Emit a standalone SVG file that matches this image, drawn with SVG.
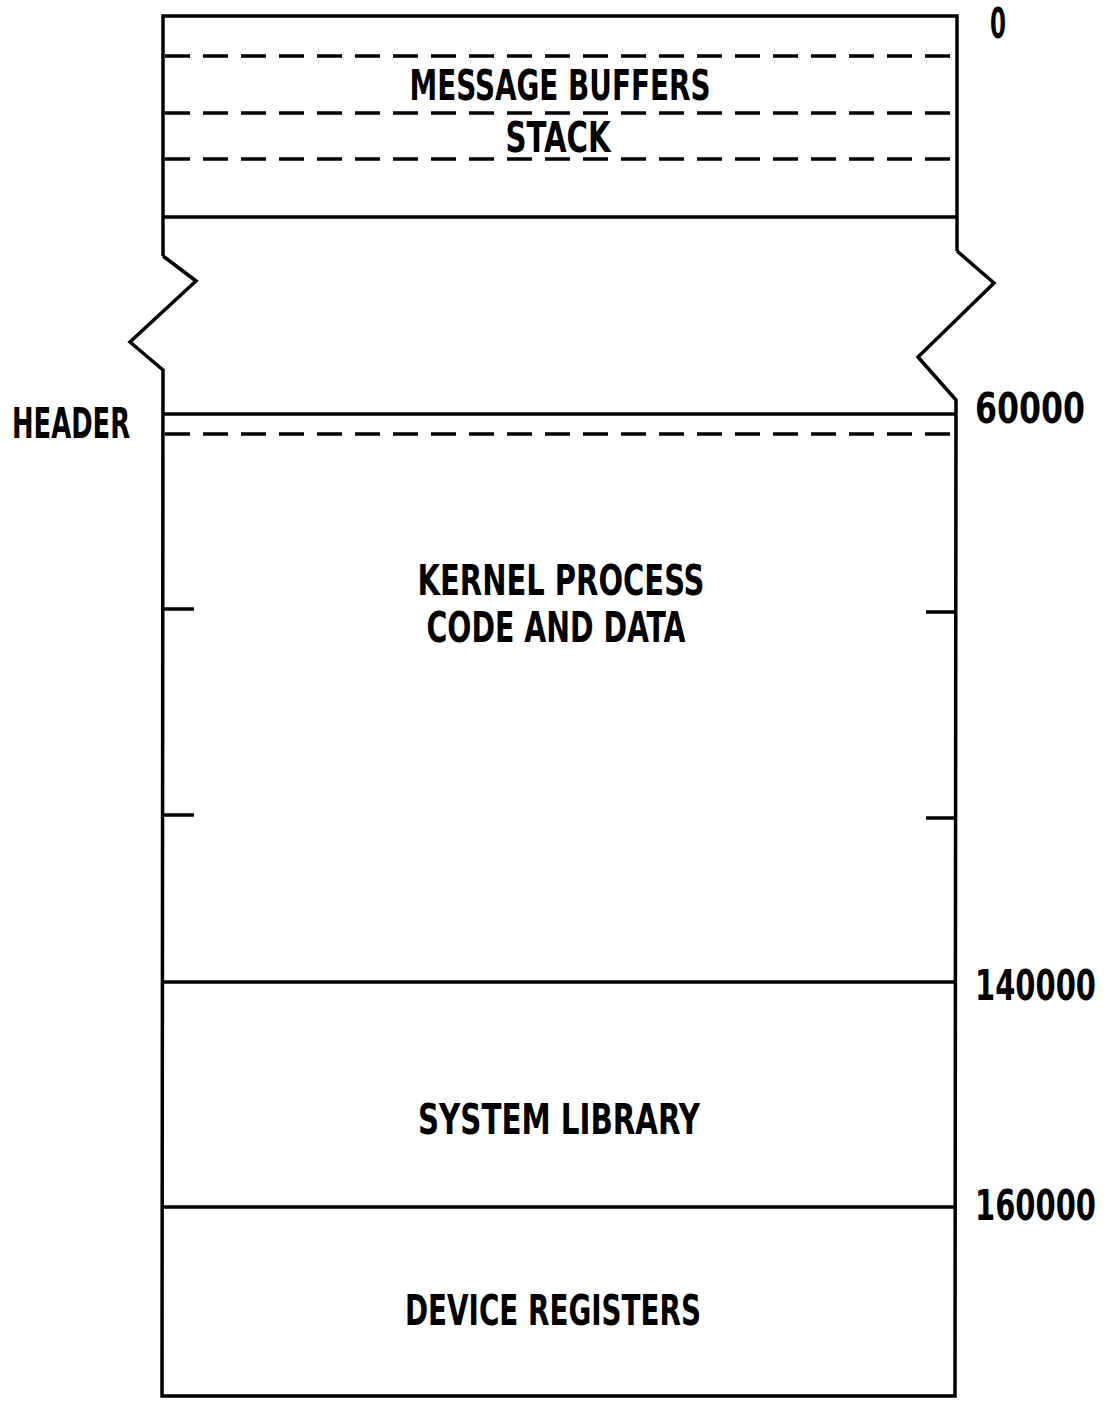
<svg xmlns="http://www.w3.org/2000/svg" width="1106" height="1403" viewBox="0 0 1106 1403">
<style>
.ln{stroke:#000;stroke-width:3.5;fill:none;stroke-linejoin:miter}
.ds{stroke:#000;stroke-width:3.5;fill:none;stroke-dasharray:25 13}
.t{font-family:"Liberation Sans Narrow","DejaVu Sans Condensed","Liberation Sans",sans-serif;font-weight:bold;font-size:42px;fill:#000}
.s{font-size:30px}
.c{text-anchor:middle}
</style>
<rect width="1106" height="1403" fill="#fff"/>
<g id="outline">
<path class="ln" d="M163,256 L163,16 L957,16 L957,251"/>
<path class="ln" d="M163,256 L196,281 L130,342 L163,370 L162,1396 L955,1396 L956,400 L918,357 L994,283 L957,251"/>
</g>
<g id="connectors">
<line class="ds" x1="165" y1="56" x2="957" y2="56"/>
<line class="ds" x1="165" y1="113" x2="957" y2="113"/>
<line class="ds" x1="165" y1="159" x2="957" y2="159"/>
<line class="ln" x1="163" y1="217" x2="957" y2="217"/>
<line class="ln" x1="163" y1="414" x2="956" y2="414"/>
<line class="ds" x1="165" y1="434" x2="956" y2="434"/>
<line class="ln" x1="163" y1="609" x2="194" y2="609"/>
<line class="ln" x1="926" y1="612" x2="956" y2="612"/>
<line class="ln" x1="163" y1="815" x2="194" y2="815"/>
<line class="ln" x1="926" y1="818" x2="956" y2="818"/>
<line class="ln" x1="162" y1="982" x2="956" y2="982"/>
<line class="ln" x1="162" y1="1207" x2="955" y2="1207"/>
</g>
<g id="message-buffers"><text class="t c" x="560" y="100" textLength="301" lengthAdjust="spacingAndGlyphs">MESSAGE BUFFERS</text></g>
<g id="stack"><text class="t c" x="558" y="152" textLength="105" lengthAdjust="spacingAndGlyphs">STACK</text></g>
<g id="header"><text class="t" x="12" y="438" textLength="118" lengthAdjust="spacingAndGlyphs">HEADER</text></g>
<g id="kernel"><text class="t c" x="561" y="595" textLength="287" lengthAdjust="spacingAndGlyphs">KERNEL PROCESS</text>
<text class="t c" x="556" y="642" textLength="259" lengthAdjust="spacingAndGlyphs">CODE AND DATA</text></g>
<g id="system-library"><text class="t c" x="559" y="1134" textLength="282" lengthAdjust="spacingAndGlyphs">SYSTEM LIBRARY</text></g>
<g id="device-registers"><text class="t c" x="553" y="1325" textLength="296" lengthAdjust="spacingAndGlyphs">DEVICE REGISTERS</text></g>
<g id="addresses">
<text class="t" x="990" y="38" textLength="16" lengthAdjust="spacingAndGlyphs">0</text>
<text class="t" x="975" y="423" textLength="110" lengthAdjust="spacingAndGlyphs">60000</text>
<text class="t s" transform="translate(975,1000) scale(1,1.4)" x="0" y="0" textLength="121" lengthAdjust="spacingAndGlyphs">140000</text>
<text class="t s" transform="translate(975,1220) scale(1,1.4)" x="0" y="0" textLength="121" lengthAdjust="spacingAndGlyphs">160000</text>
</g>
</svg>
